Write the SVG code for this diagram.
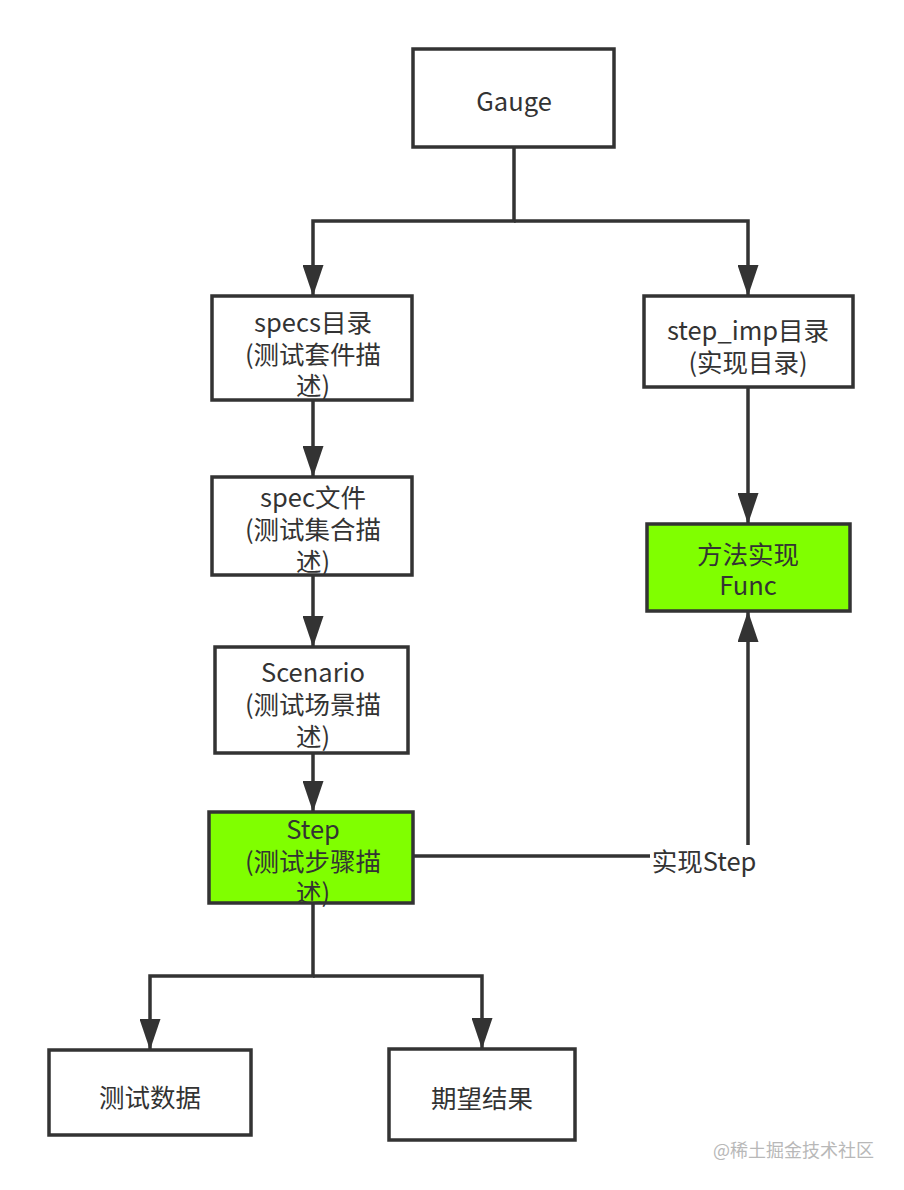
<svg xmlns="http://www.w3.org/2000/svg" width="904" height="1190" viewBox="0 0 904 1190">
<style>
.box{fill:#ffffff;stroke:#333333;stroke-width:3.5}
.green{fill:#80ff00;stroke:#333333;stroke-width:3.5}
.t{font-family:"Noto Sans CJK SC","Noto Sans",sans-serif;font-size:25.5px;fill:#333333;text-anchor:middle;dominant-baseline:central}
.edge{fill:none;stroke:#333333;stroke-width:3.5}
.wm{font-family:"Noto Sans CJK SC","Noto Sans",sans-serif;font-size:18px;fill:#b8b8b8;dominant-baseline:central}
</style>
<defs>
<marker id="arr" viewBox="0 0 31 21" refX="31" refY="10.5" markerWidth="31" markerHeight="21" orient="auto" markerUnits="userSpaceOnUse">
<path d="M0,0 L31,10.5 L0,21 z" fill="#333333"/>
</marker>
</defs>
<rect width="904" height="1190" fill="#ffffff"/>
<g id="connectors">
<path class="edge" d="M514,147 V221 H313 V296" marker-end="url(#arr)"/>
<path class="edge" d="M514,221 H748 V296" marker-end="url(#arr)"/>
<path class="edge" d="M313,400 V477" marker-end="url(#arr)"/>
<path class="edge" d="M313,575 V647" marker-end="url(#arr)"/>
<path class="edge" d="M313,753 V812" marker-end="url(#arr)"/>
<path class="edge" d="M748,388 V524" marker-end="url(#arr)"/>
<path class="edge" d="M413,856 H748 V611" marker-end="url(#arr)"/>
<path class="edge" d="M313,903 V976 H150 V1050" marker-end="url(#arr)"/>
<path class="edge" d="M313,976 H482 V1049" marker-end="url(#arr)"/>
<rect x="650" y="845" width="108" height="32" fill="#ffffff"/>
<text class="t" x="704" y="859">实现Step</text>
</g>
<g id="gauge">
<rect class="box" x="413" y="49" width="201" height="98"/>
<text class="t" x="514" y="99">Gauge</text>
</g>
<g id="specs">
<rect class="box" x="212" y="296" width="200" height="104"/>
<text class="t" x="313" y="320">specs目录</text>
<text class="t" x="313" y="352">(测试套件描</text>
<text class="t" x="313" y="383">述)</text>
</g>
<g id="specfile">
<rect class="box" x="212" y="477" width="200" height="98"/>
<text class="t" x="313" y="495">spec文件</text>
<text class="t" x="313" y="527">(测试集合描</text>
<text class="t" x="313" y="559">述)</text>
</g>
<g id="scenario">
<rect class="box" x="215" y="647" width="193" height="106"/>
<text class="t" x="313" y="670">Scenario</text>
<text class="t" x="313" y="702">(测试场景描</text>
<text class="t" x="313" y="734">述)</text>
</g>
<g id="step">
<rect class="green" x="209" y="812" width="204" height="91"/>
<text class="t" x="313" y="827">Step</text>
<text class="t" x="313" y="859">(测试步骤描</text>
<text class="t" x="313" y="890">述)</text>
</g>
<g id="stepimp">
<rect class="box" x="644" y="296" width="209" height="91"/>
<text class="t" x="748" y="328">step_imp目录</text>
<text class="t" x="748" y="360">(实现目录)</text>
</g>
<g id="func">
<rect class="green" x="647" y="524" width="203" height="87"/>
<text class="t" x="748" y="552">方法实现</text>
<text class="t" x="748" y="583">Func</text>
</g>
<g id="testdata">
<rect class="box" x="49" y="1050" width="202" height="85"/>
<text class="t" x="150" y="1095">测试数据</text>
</g>
<g id="expected">
<rect class="box" x="389" y="1049" width="186" height="91"/>
<text class="t" x="482" y="1096">期望结果</text>
</g>
<text class="wm" x="713" y="1149">@稀土掘金技术社区</text>
</svg>
